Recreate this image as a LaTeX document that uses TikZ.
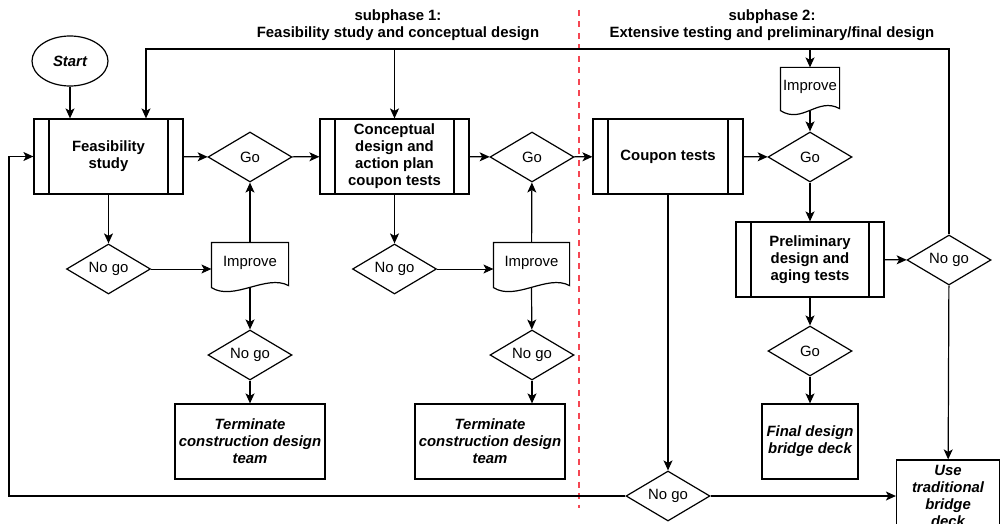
\documentclass[tikz,border=0pt]{standalone}
\usepackage{fontspec}
\setmainfont{Liberation Sans}
\usetikzlibrary{arrows.meta,shapes.geometric,calc}

\definecolor{rojo}{RGB}{245,70,82}
\newcommand{\letra}{\fontsize{14.9}{17}\selectfont}

\tikzset{
    flecha/.style={-{Stealth[length=10pt,width=9pt,inset=2.5pt]}},
    proceso/.style={draw, minimum width=149pt, minimum height=75pt, align=center,
        font=\letra\bfseries, inner sep=0pt,
        path picture={
            \draw ([xshift=15pt]path picture bounding box.north west) -- ([xshift=15pt]path picture bounding box.south west);
            \draw ([xshift=-15pt]path picture bounding box.north east) -- ([xshift=-15pt]path picture bounding box.south east);
        }},
    decision/.style={draw, diamond, aspect=1.7, inner sep=0pt, minimum width=84pt, minimum height=50pt, font=\letra},
    final/.style={draw, rectangle, minimum width=150pt, minimum height=75pt, align=center, inner sep=0pt, font=\letra\bfseries\itshape},
    documento/.style={inner sep=0pt, minimum height=40pt, font=\letra},
    titulo/.style={align=center, font=\letra\bfseries}
}

\begin{document}
\begin{tikzpicture}[x=1pt, y=-1pt, line width=1.2pt]
            \useasboundingbox (0,0) rectangle (1000,524);
            \clip (0,0) rectangle (1000,524);

            % Títulos
            \node[titulo] (hdr1) at (398,25) {subphase 1:\\Feasibility study and conceptual design};
            \node[titulo] (hdr2) at (772,25) {subphase 2:\\Extensive testing and preliminary/final design};
            % Línea roja
            \draw[rojo, line width=2.6pt, dash pattern=on 6pt off 5.5pt] (579,10) -- (579,508);

            % Inicio
            \node[draw, ellipse, minimum width=76pt, minimum height=50pt, font=\letra\bfseries\itshape] (start) at (70,61) {Start};

            % Procesos
            \node[proceso] (feas) at (108.5,156.5) {Feasibility\\study};
            \node[proceso] (conc) at (394.5,156.5) {Conceptual\\design and\\action plan\\coupon tests};
            \node[proceso, minimum width=150pt] (coup) at (668,156.5) {Coupon tests};
            \node[proceso, minimum width=148pt] (prel) at (810,259.5) {Preliminary\\design and\\aging tests};

            % Decisiones
            \node[decision] (go1) at (250,157) {Go};
            \node[decision] (go2) at (532,157) {Go};
            \node[decision] (go3) at (810,157) {Go};
            \node[decision] (gofin) at (810,351) {Go};
            \node[decision] (nogo1) at (108.5,269) {No go};
            \node[decision] (nogo1b) at (250,355) {No go};
            \node[decision] (nogo2) at (394.5,269) {No go};
            \node[decision] (nogo2b) at (532,355) {No go};
            \node[decision] (nogo4) at (949,260) {No go};
            \node[decision] (nogo5) at (668,496) {No go};

            % Documentos
            \node[documento, minimum width=76pt] (imp1) at (250,263) {Improve};
            \node[documento, minimum width=75pt] (imp2) at (531.5,263) {Improve};
            \node[documento, minimum width=58pt, minimum height=38pt] (imp3) at (810,87) {Improve};
            \foreach \d in {imp1,imp2,imp3}
                \draw (\d.north west) -- (\d.north east) -- ($(\d.south east)+(0,2)$)
                    .. controls ($(\d.south east)+(-22,-10)$) and ($(\d.south west)+(22,18)$) .. ($(\d.south west)+(0,4)$) -- cycle;

            % Finales
            \node[final] (term1) at (250,441.5) {Terminate\\construction design\\team};
            \node[final] (term2) at (490,441.5) {Terminate\\construction design\\team};
            \node[final, minimum width=96pt] (fin) at (810,441.5) {Final design\\bridge deck};
            \node[final, minimum width=103pt, minimum height=72pt] (use) at (948,496) {Use\\traditional\\bridge\\deck};

            % Flechas
            \draw[flecha] (start) -- (feas.north -| start);
            \draw[flecha] (feas) -- (go1);
            \draw[flecha] (go1) -- (conc);
            \draw[flecha] (conc) -- (go2);
            \draw[flecha] (go2) -- (coup);
            \draw[flecha] (coup) -- (go3);
            \draw[flecha] ($(imp3.south)+(0,4)$) -- (go3);
            \draw[flecha] (go3) -- (prel);
            \draw[flecha] (prel) -- (nogo4);
            \draw[flecha] (nogo4) -- (use);
            \draw[flecha] (prel) -- (gofin);
            \draw[flecha] (gofin) -- (fin);
            \draw[flecha] (coup) -- (nogo5);
            \draw[flecha] (nogo5) -- (use.west |- nogo5);

            \draw[flecha] (feas) -- (nogo1);
            \draw[flecha, line width=0.9pt] (nogo1.east) -- (nogo1.east -| imp1.west);
            \draw[flecha] (imp1) -- (go1);
            \draw[flecha] ($(imp1.south)+(0,4)$) -- (nogo1b);
            \draw[flecha] (nogo1b) -- (term1);

            \draw[flecha] (conc) -- (nogo2);
            \draw[flecha, line width=0.9pt] (nogo2.east) -- (nogo2.east -| imp2.west);
            \draw[flecha] (imp2) -- (go2);
            \draw[flecha] ($(imp2.south)+(0,4)$) -- (nogo2b);
            \draw[flecha] (nogo2b.south) -- (nogo2b.south |- term2.north);

            % Retornos
            \coordinate (ctop) at (949,49);
            \coordinate (cfeas) at (146,49);
            \coordinate (cleft) at (9,496);
            \draw[flecha] (nogo4.north) -- (ctop) -- (cfeas) -- (cfeas |- feas.north);
            \draw[flecha] (conc.north |- ctop) -- (conc.north);
            \draw[flecha] (imp3.north |- ctop) -- (imp3.north);
            \draw[flecha] (nogo5.west) -- (cleft) |- (feas.west);
\end{tikzpicture}
\end{document}
